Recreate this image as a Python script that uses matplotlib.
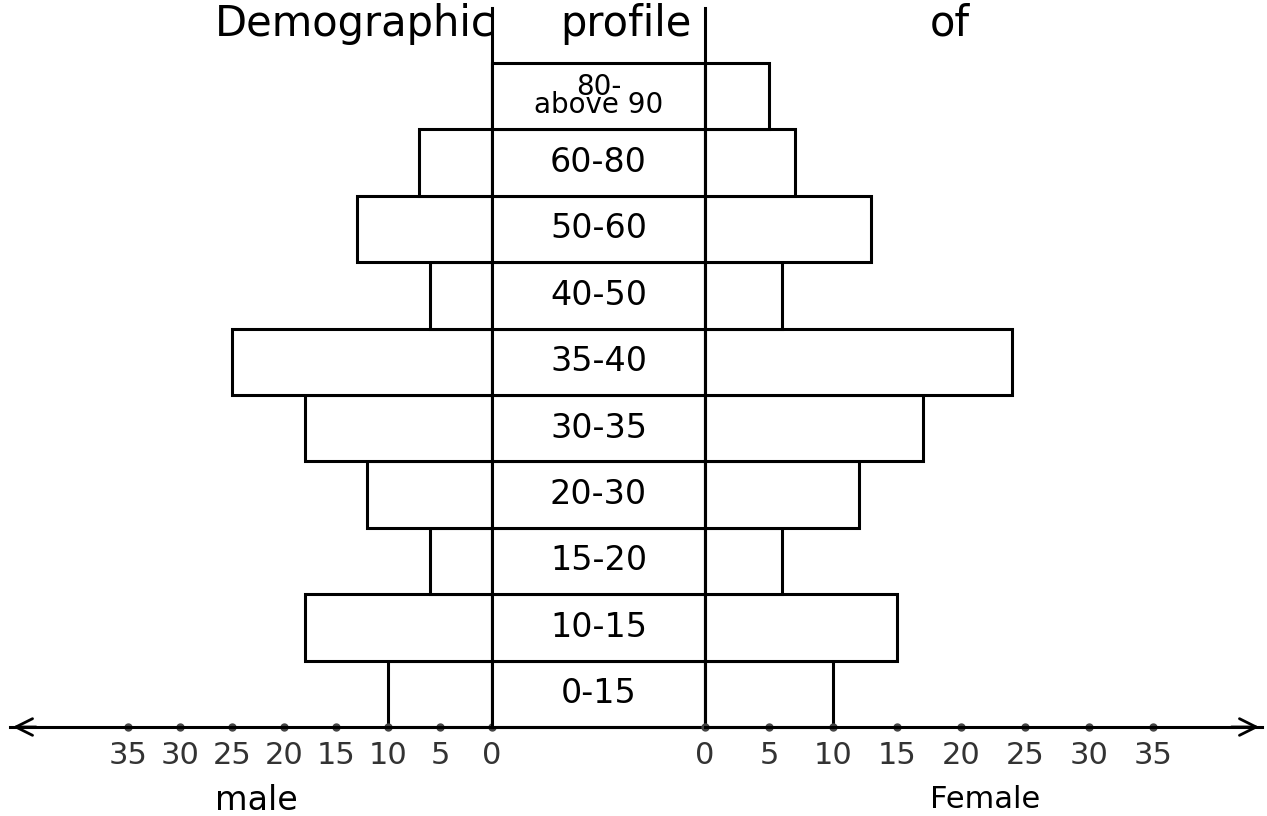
#hand drawn population pyramid (male on the left, female on the right)
import matplotlib.pyplot as plt

plt.rcParams['font.family'] = ['DejaVu Sans']

#age groups from bottom to top, with the values
age_groups = ['0-15', '10-15', '15-20', '20-30', '30-35', '35-40', '40-50', '50-60', '60-80', '80-\nabove 90']
male = [10, 18, 6, 12, 18, 25, 6, 13, 7, 0]
female = [10, 15, 6, 12, 17, 24, 6, 13, 7, 5]
ticks = [0, 5, 10, 15, 20, 25, 30, 35]
title_words = ['Demographic', 'profile', 'of']

W, H = 1267, 816
fig = plt.figure(figsize=(W / 100, H / 100), dpi=100)

#pixel layout of the three panels
x_left, x_mzero, x_fzero, x_right = 10, 492, 705, 1262
y_axis, y_top = 727, 8
row_px = 66.4
bottom = 1 - y_axis / H
height = (y_axis - y_top) / H
ymax = (y_axis - y_top) / row_px

ax_m = fig.add_axes([x_left / W, bottom, (x_mzero - x_left) / W, height])
ax_c = fig.add_axes([x_mzero / W, bottom, (x_fzero - x_mzero) / W, height])
ax_f = fig.add_axes([x_fzero / W, bottom, (x_right - x_fzero) / W, height])

#units per pixel on each side
ax_m.set_xlim((x_mzero - x_left) / 10.4, 0)
ax_f.set_xlim(0, (x_right - x_fzero) / 12.8)
ax_c.set_xlim(0, 1)
for ax in (ax_m, ax_c, ax_f):
    ax.set_ylim(0, ymax)
    for s in ax.spines.values():
        s.set_visible(False)
    ax.set_yticks([])
    ax.patch.set_alpha(0)

rows = [i + 0.5 for i in range(len(age_groups))]
style = dict(height=1, color='white', edgecolor='black', linewidth=2.2)

#the bars
ax_m.barh(rows, male, clip_on=False, **style)
ax_f.barh(rows, female, clip_on=False, **style)
ax_c.barh(rows, [1] * len(rows), clip_on=False, **style)

#the two zero lines going up to the top
ax_m.axvline(0, color='black', lw=2.2, clip_on=False)
ax_f.axvline(0, color='black', lw=2.2, clip_on=False)

#age labels in the middle
for r, lab in zip(rows, age_groups):
    if '\n' in lab:
        ax_c.text(0.5, r, lab, ha='center', va='center', fontsize=20, linespacing=0.55)
    else:
        ax_c.text(0.5, r, lab, ha='center', va='center', fontsize=24)

#horizontal axis with arrows and dots
for ax in (ax_m, ax_c, ax_f):
    ax.spines['bottom'].set_visible(True)
    ax.spines['bottom'].set_linewidth(2.2)
ax_m.annotate('', xy=(0, 0), xytext=(0.06, 0), xycoords='axes fraction',
              arrowprops=dict(arrowstyle='->', lw=2, mutation_scale=30))
ax_f.annotate('', xy=(1, 0), xytext=(0.94, 0), xycoords='axes fraction',
              arrowprops=dict(arrowstyle='->', lw=2, mutation_scale=30))
ax_m.plot(ticks, [0] * len(ticks), 'o', color='#444444', ms=5, clip_on=False)
ax_f.plot(ticks, [0] * len(ticks), 'o', color='#444444', ms=5, clip_on=False)

ax_m.set_xticks(ticks)
ax_f.set_xticks(ticks)
ax_c.set_xticks([])
for ax in (ax_m, ax_f):
    ax.tick_params(axis='x', length=0, pad=10, labelsize=22, labelcolor='#333333')

fig.text(215 / W, 1 - 800 / H, 'male', fontsize=24, ha='left', va='center')
fig.text(930 / W, 1 - 800 / H, 'Female', fontsize=22, ha='left', va='center')

#title words spread across the top, between the two zero lines
for word, xp in zip(title_words, [215, 560, 930]):
    fig.text(xp / W, 1 - 24 / H, word, fontsize=30, ha='left', va='center')

fig.savefig('out.png', dpi=100, facecolor='white')
